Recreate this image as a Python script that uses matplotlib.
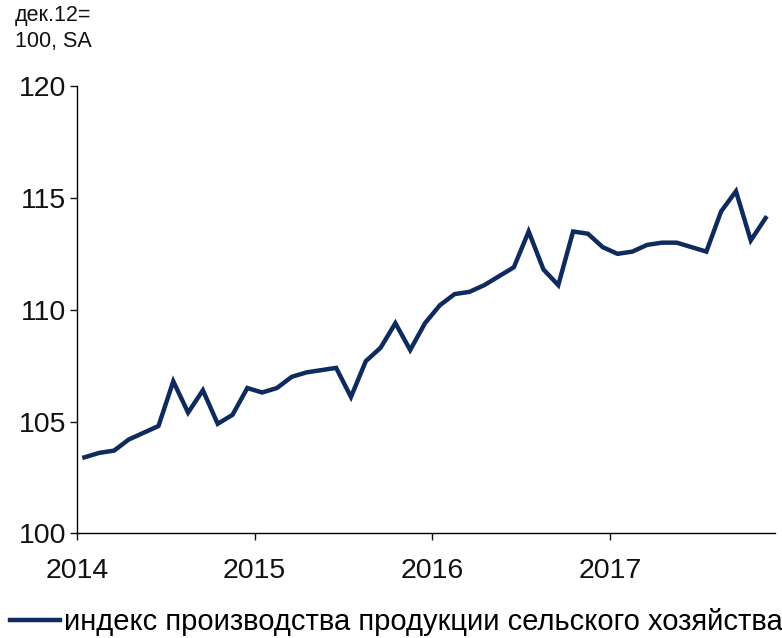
import numpy as np
from matplotlib import pyplot as plt

plt.rcParams['font.family'] = ['Liberation Sans', 'DejaVu Sans']

# monthly agricultural production index, Jan 2014 .. Nov 2017 (Dec 2012 = 100, SA)
start_year = 2014
agri_index = [
    103.4, 103.6, 103.7, 104.2, 104.5, 104.8, 106.8, 105.4, 106.4, 104.9, 105.3, 106.5,
    106.3, 106.5, 107.0, 107.2, 107.3, 107.4, 106.1, 107.7, 108.3, 109.4, 108.2, 109.4,
    110.2, 110.7, 110.8, 111.1, 111.5, 111.9, 113.5, 111.8, 111.1, 113.5, 113.4, 112.8,
    112.5, 112.6, 112.9, 113.0, 113.0, 112.8, 112.6, 114.4, 115.3, 113.1, 114.1,
]
year_ticks = [2014, 2015, 2016, 2017]
y_ticks = [100, 105, 110, 115, 120]
legend_label = 'индекс производства продукции сельского хозяйства'
unit_label = 'дек.12=\n100, SA'

# points sit in the middle of each month
x = start_year + (np.arange(len(agri_index)) + 0.5) / 12

fig = plt.figure(figsize=(7.82, 6.38), dpi=100)
ax = fig.add_axes([0.0985, 0.164, 0.893, 0.701])

ax.plot(x, agri_index, color='#0f2a5c', lw=3.2, solid_joinstyle='miter',
        label=legend_label)

ax.set_xlim(2014, 2017.93)
ax.set_ylim(100, 120)
ax.set_xticks(year_ticks)
ax.set_xticklabels([str(y) for y in year_ticks])
ax.set_yticks(y_ticks)

for s in ['top', 'right']:
    ax.spines[s].set_visible(False)
for s in ['left', 'bottom']:
    ax.spines[s].set_linewidth(1.0)
    ax.spines[s].set_color('black')

ax.tick_params(axis='both', direction='out', length=5, width=1.0,
               labelsize=20.5, colors='#111111')
ax.tick_params(axis='x', pad=13)
ax.tick_params(axis='y', pad=3)

fig.text(0.019, 0.992, unit_label, fontsize=15.5, va='top', ha='left',
         linespacing=1.3, color='#111111')

fig.legend(loc='center left', bbox_to_anchor=(10 / 782, 1 - 622 / 638),
           frameon=False, fontsize=21, handlelength=1.7, handletextpad=0.15,
           borderpad=0, borderaxespad=0)

plt.savefig('out.png', dpi=100)
